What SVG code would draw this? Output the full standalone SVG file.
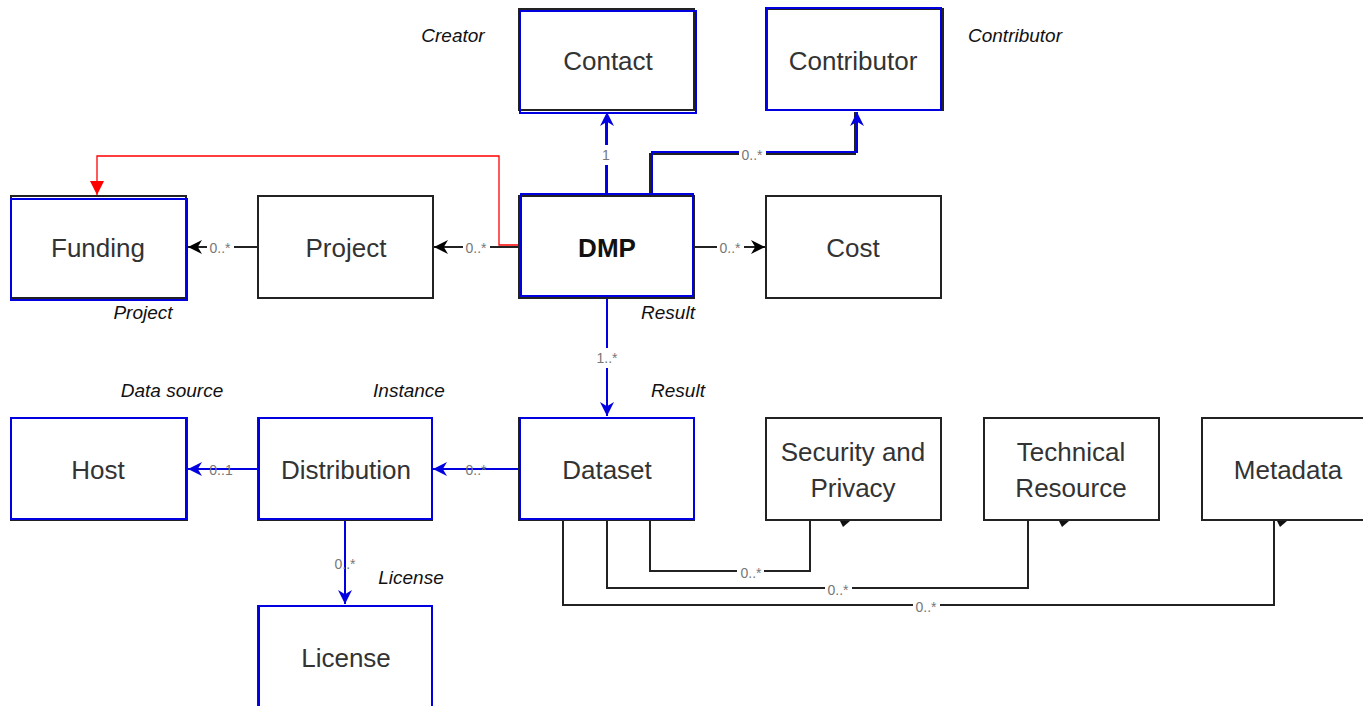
<svg xmlns="http://www.w3.org/2000/svg" width="1363" height="706" viewBox="0 0 1363 706">
<defs>
<marker id="abk" viewBox="0 0 10 10" refX="10" refY="5" markerWidth="14" markerHeight="14" orient="auto" markerUnits="userSpaceOnUse"><path d="M0,0 L10,5 L0,10 L3,5 z" fill="#000"/></marker>
<marker id="abl" viewBox="0 0 10 10" refX="10" refY="5" markerWidth="14" markerHeight="14" orient="auto" markerUnits="userSpaceOnUse"><path d="M0,0 L10,5 L0,10 L3,5 z" fill="#0000e0"/></marker>
<marker id="ard" viewBox="0 0 10 10" refX="10" refY="5" markerWidth="14" markerHeight="14" orient="auto" markerUnits="userSpaceOnUse"><path d="M0,0 L10,5 L0,10 z" fill="#ff0000"/></marker>
</defs>
<style>
.box{fill:#fff;stroke:#222;stroke-width:2}
.bl{fill:none;stroke:#0000e0;stroke-width:2}
.t{font-family:"Liberation Sans",Arial,sans-serif;font-size:26px;fill:#333;text-anchor:middle}
.b{font-weight:bold;fill:#111}
.r{font-family:"Liberation Sans",Arial,sans-serif;font-size:19px;font-style:italic;fill:#111;text-anchor:middle}
.m{font-family:"Liberation Sans",Arial,sans-serif;font-size:14px;fill:#777;text-anchor:middle}
.lk{fill:none;stroke:#222;stroke-width:2}
.lb{fill:none;stroke:#0000e0;stroke-width:2}
.lr{fill:none;stroke:#ff0000;stroke-width:1.3}
.mb{fill:#fff}
</style>
<rect width="1363" height="706" fill="#fff"/>

<g id="connectors">
<polyline class="lr" points="519,245 499,245 499,156 97,156 97,195" marker-end="url(#ard)"/>
<line class="lk" x1="606" y1="195" x2="606" y2="120"/>
<line class="lb" x1="607" y1="195" x2="607" y2="112" marker-end="url(#abl)"/>
<polyline class="lk" points="650,195 650,154 855,154 855,112"/>
<polyline class="lb" points="652,195 652,152 857,152 857,112" marker-end="url(#abl)"/>
<line class="lk" x1="519" y1="247" x2="434" y2="247" marker-end="url(#abk)"/>
<line class="lk" x1="258" y1="247" x2="188" y2="247" marker-end="url(#abk)"/>
<line class="lk" x1="694" y1="247" x2="765" y2="247" marker-end="url(#abk)"/>
<line class="lb" x1="607" y1="298" x2="607" y2="416" marker-end="url(#abl)"/>
<line class="lb" x1="519" y1="469" x2="433" y2="469" marker-end="url(#abl)"/>
<line class="lb" x1="258" y1="469" x2="188" y2="469" marker-end="url(#abl)"/>
<line class="lb" x1="345" y1="520" x2="345" y2="604" marker-end="url(#abl)"/>
<polyline class="lk" points="650,520 650,571 810,571 810,520"/>
<polyline class="lk" points="607,520 607,588 1028,588 1028,520"/>
<polyline class="lk" points="563,520 563,605 1274,605 1274,520"/>
<path d="M840,521 L850,521 L843,527 z" fill="#111"/>
<path d="M1059,521 L1069,521 L1062,527 z" fill="#111"/>
<path d="M1277,521 L1287,521 L1280,527 z" fill="#111"/>

<rect class="mb" x="600" y="145" width="12" height="20"/>
<text class="m" x="606" y="160">1</text>
<rect class="mb" x="739" y="148" width="27" height="13"/>
<text class="m" x="752" y="160">0..*</text>
<rect class="mb" x="463" y="241" width="27" height="13"/>
<text class="m" x="476" y="253">0..*</text>
<rect class="mb" x="207" y="241" width="27" height="13"/>
<text class="m" x="220" y="253">0..*</text>
<rect class="mb" x="717" y="241" width="27" height="13"/>
<text class="m" x="730" y="253">0..*</text>
<rect class="mb" x="597" y="348" width="20" height="20"/>
<text class="m" x="607" y="363">1..*</text>
<text class="m" x="476" y="475">0..*</text>
<text class="m" x="221" y="475">0..1</text>
<text class="m" x="345" y="569">0..*</text>
<rect class="mb" x="737" y="566" width="27" height="13"/>
<text class="m" x="751" y="578">0..*</text>
<rect class="mb" x="825" y="583" width="27" height="13"/>
<text class="m" x="838" y="595">0..*</text>
<rect class="mb" x="913" y="600" width="27" height="13"/>
<text class="m" x="926" y="612">0..*</text>
</g>

<g id="contact"><rect class="box" x="519" y="9" width="175" height="101"/><rect class="bl" x="520" y="11" width="176" height="102"/><text class="t" x="608" y="70">Contact</text></g>
<g id="contributor"><rect class="box" x="767" y="9" width="176" height="101"/><rect class="bl" x="766" y="8" width="175" height="102"/><text class="t" x="853" y="70">Contributor</text></g>
<g id="funding"><rect class="box" x="11" y="196" width="175" height="102"/><rect class="bl" x="11" y="199" width="176" height="101"/><text class="t" x="98" y="257">Funding</text></g>
<g id="project"><rect class="box" x="258" y="196" width="175" height="102"/><text class="t" x="346" y="257">Project</text></g>
<g id="dmp"><rect class="box" x="519" y="196" width="175" height="102"/><rect class="bl" x="521" y="194" width="172" height="102"/><text class="t b" x="607" y="257">DMP</text></g>
<g id="cost"><rect class="box" x="766" y="196" width="175" height="102"/><text class="t" x="853" y="257">Cost</text></g>
<g id="host"><rect class="box" x="11" y="418" width="176" height="102"/><rect class="bl" x="11" y="418" width="175" height="101"/><text class="t" x="98" y="479">Host</text></g>
<g id="distribution"><rect class="box" x="258" y="418" width="174" height="102"/><rect class="bl" x="259" y="418" width="173" height="101"/><text class="t" x="346" y="479">Distribution</text></g>
<g id="dataset"><rect class="box" x="519" y="418" width="175" height="102"/><rect class="bl" x="520" y="418" width="174" height="101"/><text class="t" x="607" y="479">Dataset</text></g>
<g id="security"><rect class="box" x="766" y="418" width="175" height="102"/><text class="t" x="853" y="461">Security and</text><text class="t" x="853" y="497">Privacy</text></g>
<g id="technical"><rect class="box" x="984" y="418" width="175" height="102"/><text class="t" x="1071" y="461">Technical</text><text class="t" x="1071" y="497">Resource</text></g>
<g id="metadata"><rect class="box" x="1202" y="418" width="175" height="102"/><text class="t" x="1288" y="479">Metadata</text></g>
<g id="license"><rect class="box" x="258" y="606" width="174" height="110"/><rect class="bl" x="259" y="606" width="173" height="110"/><text class="t" x="346" y="667">License</text></g>

<g id="roles">
<text class="r" x="453" y="42">Creator</text>
<text class="r" x="1015" y="42">Contributor</text>
<text class="r" x="143" y="319">Project</text>
<text class="r" x="668" y="319">Result</text>
<text class="r" x="172" y="397">Data source</text>
<text class="r" x="409" y="397">Instance</text>
<text class="r" x="678" y="397">Result</text>
<text class="r" x="411" y="584">License</text>
</g>
</svg>
